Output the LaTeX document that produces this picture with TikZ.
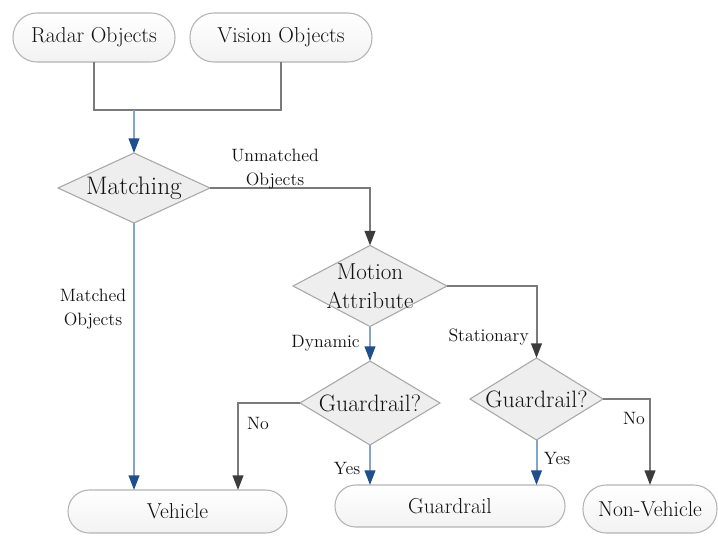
\documentclass[tikz,border=0pt]{standalone}
\usepackage{fontspec}
\usetikzlibrary{shapes.geometric,arrows.meta,calc}

\definecolor{linegray}{HTML}{7A7A7A}
\definecolor{tipgray}{HTML}{3C3C3C}
\definecolor{lineblue}{HTML}{86A3C8}
\definecolor{tipblue}{HTML}{1F4E8F}
\definecolor{boxedge}{HTML}{B4B4B4}
\definecolor{diafill}{HTML}{EEEEEE}
\definecolor{diaedge}{HTML}{A8A8A8}
\definecolor{txt}{HTML}{111111}

\tikzset{
  terminal/.style={draw=boxedge, line width=0.8pt, top color=white, bottom color=gray!10,
    inner sep=0pt, outer sep=0pt, font=\fontsize{16.2}{18}\selectfont, text=txt},
  decision/.style={diamond, draw=diaedge, line width=0.8pt, fill=diafill,
    inner sep=0pt, outer sep=0pt},
  dtext/.style={text=txt, align=center, inner sep=0pt},
  flow/.style={draw=linegray, line width=1.5pt},
  flowarrow/.style={flow, -{Triangle[length=11pt,width=8pt,color=tipgray]}},
  bluearrow/.style={draw=lineblue, line width=1.5pt, -{Triangle[length=11pt,width=8pt,color=tipblue]}},
  edgelabel/.style={font=\fontsize{13.4}{18}\selectfont, text=txt, align=center, inner sep=0pt},
}

\begin{document}
\begin{tikzpicture}[x=0.75pt, y=-0.75pt]
  \fill[white] (0,0) rectangle (718,536);
  \useasboundingbox (0,0) rectangle (718,536);

  % sources
  \node[terminal, rounded corners=18pt, minimum width=121.5pt, minimum height=36.75pt]
    (radar) at (94,37.5) {Radar Objects};
  \node[terminal, rounded corners=18pt, minimum width=136.5pt, minimum height=36.75pt]
    (vision) at (281,37.5) {Vision Objects};

  % decisions
  \node[decision, minimum width=114pt, minimum height=52.5pt,
    label={[name=matchtxt, dtext, font=\fontsize{19}{22}\selectfont]center:Matching}]
    (matching) at (134,188) {};
  \node[decision, minimum width=115.5pt, minimum height=60.75pt,
    label={[name=motiontxt, dtext, font=\fontsize{17.3}{21.75}\selectfont]center:Motion\\Attribute}]
    (motion) at (370,286) {};
  \node[decision, minimum width=105pt, minimum height=63pt,
    label={[name=gonetxt, dtext, font=\fontsize{17.8}{20}\selectfont]center:Guardrail?}]
    (gone) at (370,403) {};
  \node[decision, minimum width=99.75pt, minimum height=61.5pt,
    label={[name=gtwotxt, dtext, font=\fontsize{17.8}{20}\selectfont]center:Guardrail?}]
    (gtwo) at (536.5,399) {};

  % results
  \node[terminal, rounded corners=16pt, minimum width=164.25pt, minimum height=32.25pt]
    (vehicle) at (177.5,511.5) {Vehicle};
  \node[terminal, rounded corners=15.5pt, minimum width=172.5pt, minimum height=31.5pt]
    (guard) at (450,506) {Guardrail};
  \node[terminal, rounded corners=17.5pt, minimum width=100.5pt, minimum height=36pt]
    (nonveh) at (650,509) {Non-Vehicle};

  % merging the two sources
  \coordinate (join) at (134,110);
  \draw[flow] (radar.south) |- (join) -| (vision.south);
  \draw[bluearrow] (join) -- (matching.north);

  % matching outcomes
  \draw[flowarrow] (matching.east) -| (motion.north);
  \draw[bluearrow] (matching.south) -- (matching.south |- vehicle.north);

  % motion attribute
  \draw[bluearrow] (motion.south) -- (gone.north);
  \draw[flowarrow] (motion.east) -| (gtwo.north);

  % guardrail checks
  \draw[flowarrow] (gone.west) -| ($(vehicle.north)+(60.5,0)$);
  \draw[bluearrow] (gone.south) -- (gone.south |- guard.north);
  \draw[bluearrow] (gtwo.south) -- (gtwo.south |- guard.north);
  \draw[flowarrow] (gtwo.east) -| (nonveh.north);

  % connector labels
  \node[edgelabel] (lunmatched) at (275,169) {Unmatched\\Objects};
  \node[edgelabel] (lmatched) at (93,309) {Matched\\Objects};
  \node[edgelabel, anchor=east] (ldynamic) at (360,343) {Dynamic};
  \node[edgelabel, anchor=east] (lstationary) at (529,337) {Stationary};
  \node[edgelabel] (lnoone) at (258,423) {No};
  \node[edgelabel] (lyesone) at (347,468) {Yes};
  \node[edgelabel] (lyestwo) at (557,458) {Yes};
  \node[edgelabel] (lnotwo) at (634,418) {No};
\end{tikzpicture}
\end{document}
